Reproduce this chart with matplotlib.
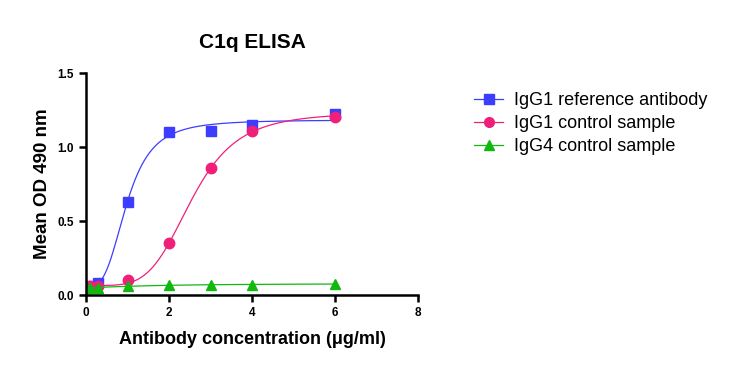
import numpy as np
import matplotlib
matplotlib.use('Agg')
import matplotlib.pyplot as plt

plt.rcParams['font.family'] = ['Liberation Sans', 'DejaVu Sans']

# Concentrations (ug/ml) and mean OD 490 nm
conc = np.array([0.0, 0.1, 0.3, 1.0, 2.0, 3.0, 4.0, 6.0])
igg1_ref = np.array([0.05, 0.06, 0.08, 0.63, 1.10, 1.11, 1.15, 1.22])
igg1_ctrl = np.array([0.05, 0.06, 0.06, 0.10, 0.35, 0.86, 1.11, 1.20])
igg4_ctrl = np.array([0.05, 0.05, 0.05, 0.06, 0.065, 0.07, 0.07, 0.075])

labels = ['IgG1 reference antibody', 'IgG1 control sample', 'IgG4 control sample']
colors = ['#3d3dff', '#f0207a', '#10b810']
markers = ['s', 'o', '^']


def hill_fit(x, y):
    # grid over ec50 and slope, bottom/top solved by least squares
    best = None
    for ec50 in np.linspace(0.2, 8, 160):
        for h in np.linspace(0.5, 8, 76):
            s = x**h / (ec50**h + x**h)
            A = np.column_stack([1 - s, s])
            coef, *_ = np.linalg.lstsq(A, y, rcond=None)
            err = np.sum((A @ coef - y) ** 2)
            if best is None or err < best[0]:
                best = (err, ec50, h, coef)
    _, ec50, h, (bot, top) = best
    return lambda t: bot + (top - bot) * t**h / (ec50**h + t**h)


fig = plt.figure(figsize=(7.36, 3.84), dpi=100)
ax = fig.add_axes([86/736, 1 - 295/384, (418-86)/736, (295-73)/384])

xs = np.linspace(0, 6, 400)
handles = []
for y, lab, c, m in zip([igg1_ref, igg1_ctrl, igg4_ctrl], labels, colors, markers):
    f = hill_fit(conc, y)
    ax.plot(xs, f(xs), color=c, lw=0.9)
    ax.plot(conc, y, linestyle='none', marker=m, color=c, markersize=7.5)
    h, = ax.plot([], [], color=c, lw=0.9, marker=m, markersize=7, label=lab)
    handles.append(h)

ax.set_xlim(0, 8)
ax.set_ylim(0, 1.5)
ax.set_xticks([0, 2, 4, 6, 8])
ax.set_yticks([0.0, 0.5, 1.0, 1.5])
ax.set_yticklabels(['0.0', '0.5', '1.0', '1.5'])
ax.spines['top'].set_visible(False)
ax.spines['right'].set_visible(False)
for s in ['left', 'bottom']:
    ax.spines[s].set_linewidth(1.8)
ax.tick_params(width=1.8, length=5, labelsize=8.5, direction='out')
for t in ax.get_xticklabels() + ax.get_yticklabels():
    t.set_fontweight('bold')

ax.set_title('C1q ELISA', fontsize=15, fontweight='bold', pad=18)
ax.set_xlabel('Antibody concentration (\u03bcg/ml)', fontsize=13, fontweight='bold', labelpad=9)
ax.set_ylabel('Mean OD 490 nm', fontsize=13.5, fontweight='bold', labelpad=5)

fig.legend(handles=handles, loc='upper left', bbox_to_anchor=(458/736, 1 - 76/384),
           frameon=False, fontsize=13, handlelength=1.6, handletextpad=0.6,
           labelspacing=0.33)

fig.savefig('out.png', dpi=100)
